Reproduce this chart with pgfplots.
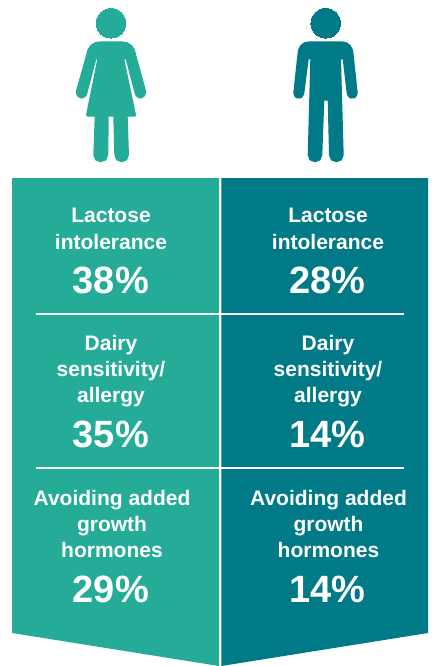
\documentclass[border=0pt]{standalone}
\usepackage{fontspec}
\setmainfont{Liberation Sans}
\usepackage{pgfplots}
\pgfplotsset{compat=1.18}
\definecolor{womenTeal}{HTML}{24AC98}
\definecolor{menTeal}{HTML}{007A87}
\newcommand{\lab}[3]{\node[anchor=base,inner sep=0pt,text=white,font=\fontsize{21}{21}\selectfont\bfseries] at (axis cs:#1,#2) {#3};}
\begin{document}
\begin{tikzpicture}
\begin{axis}[
  width=434pt, height=666pt, scale only axis,
  xmin=0, xmax=434, ymin=0, ymax=666,
  y dir=reverse,
  hide axis, clip=false,
  /pgf/number format/assume math mode=true,
]
\path (rel axis cs:0,0) rectangle (rel axis cs:1,1);
% panels
\addplot[fill=womenTeal, draw=none] coordinates {(12,178) (219,178) (219,666) (12,633)} -- cycle;
\addplot[fill=menTeal, draw=none] coordinates {(221.3,178) (428,178) (428,633) (221.3,666)} -- cycle;
% rules
\addplot[white, line width=2pt] coordinates {(36,314.3) (404,314.3)};
\addplot[white, line width=2pt] coordinates {(36,467.5) (404,467.5)};
% heads
\addplot[only marks, mark=*, mark size=14.8pt, color=womenTeal, mark options={fill=womenTeal, draw=womenTeal, line width=0pt}] coordinates {(111,23.3)};
\addplot[only marks, mark=*, mark size=14.8pt, color=menTeal, mark options={fill=menTeal, draw=menTeal, line width=0pt}] coordinates {(325.7,23.3)};
% woman
\addplot[fill=womenTeal, draw=none] coordinates {
(122,41.3) (127.3,42.3) (132,45.3) (135,50) (136.3,55.3)
(146,90.7) (146,93.3) (144.7,96.3) (142,98.3) (139,98.3) (136,96.3) (135,94.7)
(125.7,59.3) (124.3,59.3) (136,114.7) (135.3,116.7) (127.7,116.7)
(129,155) (127,160.3) (121.7,162.3) (116.3,160.3) (114.3,155)
(113.3,116.7) (108.7,116.7)
(108.3,155) (106.3,160.3) (100.7,162.3) (95.3,160.3) (93.3,155)
(94.7,116.7) (87.3,116.7) (86,115)
(97.3,59.3) (96.3,59.3)
(87,94.7) (86,96.3) (83.3,98.3) (80,98.3) (77.3,96.3) (76,93.3) (76,90.7)
(86,55.3) (87.3,50) (90.3,45.3) (95,42.3) (100,41.3)} -- cycle;
% man
\addplot[fill=menTeal, draw=none] coordinates {
(341.7,41.3) (346.7,42.3) (350.7,45.3) (353,50) (353.7,55.3)
(357.7,92.7) (357,95.7) (355,98.3) (350,98.3) (347.7,96) (346.7,93.3)
(342.7,59.3) (341,59.3)
(343.7,155) (341.7,160.3) (336.3,162.3) (331,160.3) (329,155)
(327.7,100.7) (324.3,100.7)
(322.3,155) (320.3,160.3) (315,162.3) (309.7,160.3) (307.7,155)
(310.3,59.3) (308.7,59.3)
(304.3,93.3) (303.3,96) (301,98.3) (296,98.3) (294,95.7) (293.3,92.7)
(297.3,55.3) (298,50) (300.3,45.3) (304.3,42.3) (309.3,41.3)} -- cycle;
% percentages
\pgfplotsset{every node near coord/.style={anchor=base,inner sep=0pt,text=white,font=\fontsize{38}{38}\selectfont\bfseries}}
\addplot[only marks, mark=none, point meta=explicit,
  nodes near coords={\pgfmathprintnumber{\pgfplotspointmeta}\%}]
  coordinates {(110.8,293)[38] (110.8,447)[35] (110.8,602)[29]};
\addplot[only marks, mark=none, point meta=explicit,
  nodes near coords={\pgfmathprintnumber{\pgfplotspointmeta}\%}]
  coordinates {(327.5,293)[28] (327.5,447)[14] (327.5,602)[14]};
% labels
\lab{111}{222}{Lactose}
\lab{111}{249}{intolerance}
\lab{111}{350}{Dairy}
\lab{111}{376}{sensitivity/}
\lab{111}{402}{allergy}
\lab{112}{505}{Avoiding added}
\lab{112}{531}{growth}
\lab{112}{557}{hormones}
\lab{328}{222}{Lactose}
\lab{328}{249}{intolerance}
\lab{328}{350}{Dairy}
\lab{328}{376}{sensitivity/}
\lab{328}{402}{allergy}
\lab{328.5}{505}{Avoiding added}
\lab{328.5}{531}{growth}
\lab{328.5}{557}{hormones}
\end{axis}
\end{tikzpicture}
\end{document}
